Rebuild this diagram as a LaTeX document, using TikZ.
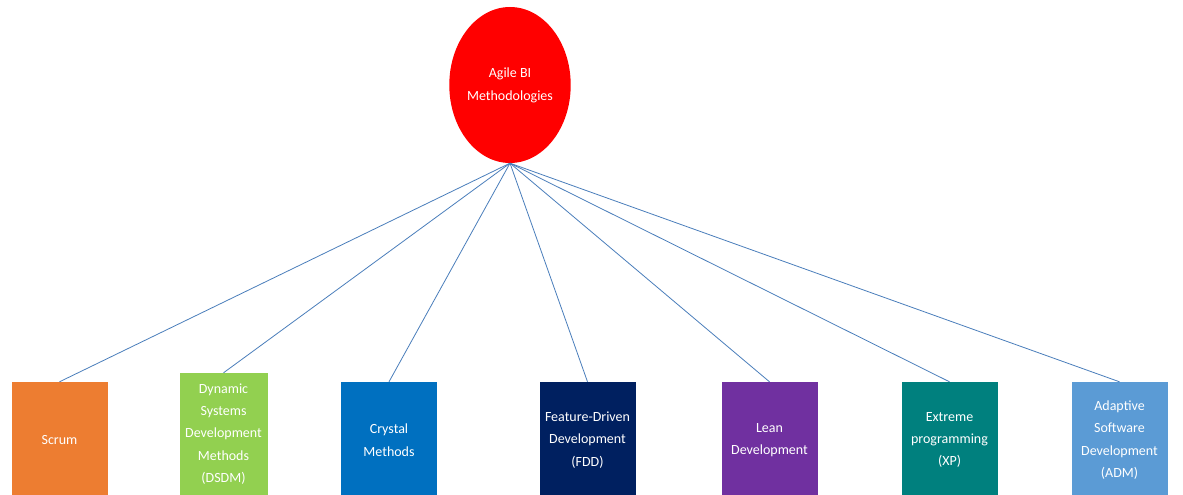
\documentclass[tikz,border=0pt]{standalone}
\usepackage{fontspec}
\setmainfont{Carlito}
\usetikzlibrary{shapes.geometric}
\definecolor{rootred}{HTML}{FF0000}
\definecolor{linkblue}{HTML}{4A7EBB}
\definecolor{cScrum}{HTML}{ED7D31}
\definecolor{cDSDM}{HTML}{92D050}
\definecolor{cCrystal}{HTML}{0070C0}
\definecolor{cFDD}{HTML}{002060}
\definecolor{cLean}{HTML}{7030A0}
\definecolor{cXP}{HTML}{00807E}
\definecolor{cADM}{HTML}{5B9BD5}
\tikzset{
  rootnode/.style={ellipse, fill=rootred, draw=none, minimum width=112pt, minimum height=156pt,
    inner sep=0pt, text=white, align=center, font=\fontsize{14}{23}\selectfont},
  methodbox/.style={rectangle, draw=none, fill=#1, minimum width=96pt, text width=92pt,
    inner sep=0pt, text=white, align=center, font=\fontsize{14}{22.4}\selectfont},
  link/.style={draw=linkblue, line width=0.8pt}
}
\begin{document}
\begin{tikzpicture}[x=1pt,y=-1pt]
  \useasboundingbox (0,0) rectangle (1183,495);
  \clip (0,0) rectangle (1183,495);
  \fill[white] (0,0) rectangle (1183,495);

  % central topic
  \node[rootnode] (root) at (510,85) {Agile BI\\Methodologies};

  % methodology boxes (their lower edges run past the frame)
  \node[methodbox=cScrum,   minimum height=116pt] (scrum)   at (59.5,440)  {Scrum};
  \node[methodbox=cDSDM,    minimum height=122pt, minimum width=88pt, text width=86pt] (dsdm) at (223.5,434)
    {Dynamic\\Systems\\Development\\Methods\\(DSDM)};
  \node[methodbox=cCrystal, minimum height=116pt] (crystal) at (389,440)  {Crystal\\Methods};
  \node[methodbox=cFDD,     minimum height=116pt] (fdd)     at (587.5,440) {Feature-Driven\\Development\\(FDD)};
  \node[methodbox=cLean,    minimum height=116pt] (lean)    at (769.5,440) {Lean\\Development};
  \node[methodbox=cXP,      minimum height=116pt] (xp)      at (949.5,440) {Extreme\\programming\\(XP)};
  \node[methodbox=cADM,     minimum height=116pt] (adm)     at (1119.5,440) {Adaptive\\Software\\Development\\(ADM)};

  % connectors from the central topic
  \foreach \m in {scrum,dsdm,crystal,fdd,lean,xp,adm}
    \draw[link] (root.south) -- (\m.north);
\end{tikzpicture}
\end{document}
